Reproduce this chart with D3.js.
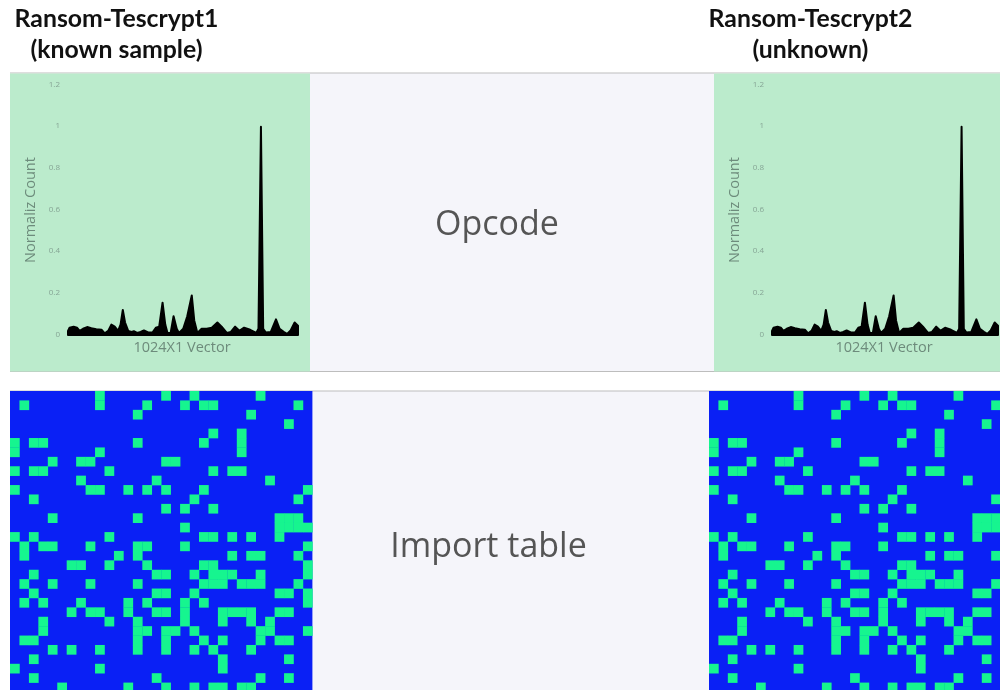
<!DOCTYPE html>
<html>
<head>
<meta charset="utf-8">
<script src="https://cdn.jsdelivr.net/npm/d3@7"></script>
<style>
  html, body { margin: 0; padding: 0; background: #fff; overflow: hidden; }
  svg { display: block; }
  text { font-family: "Open Sans", sans-serif; }
  .title { font-family: Lato, sans-serif; font-weight: 700; font-size: 24.8px; fill: #111; text-anchor: middle; }
  .section { font-size: 34px; fill: #555; text-anchor: middle; }
  .axis-label { font-size: 14.5px; fill: #6d8b7b; text-anchor: middle; }
  .tick text { font-size: 8px; fill: #86a595; }
</style>
</head>
<body>
<svg id="chart" width="1000" height="690"></svg>
<script>
// opcode histogram, position in the 1024x1 vector and normalized count
const vectorIndex = [0, 7, 25, 40, 52, 67, 85, 104, 126, 149, 164, 179, 193, 208, 223, 234, 244, 254, 268, 283, 293, 308, 323, 338, 357, 376, 391, 406, 421, 433, 443, 457, 470, 484, 494, 513, 531, 551, 562, 576, 595, 618, 640, 665, 684, 707, 725, 744, 763, 784, 811, 838, 848, 859, 869, 881, 903, 926, 942, 960, 975, 990, 1009, 1024];
const opcodeCounts = [0.02, 0.035, 0.04, 0.035, 0.02, 0.03, 0.038, 0.032, 0.028, 0.025, 0.008, 0.02, 0.05, 0.04, 0.02, 0.05, 0.12, 0.06, 0.02, 0.015, 0.018, 0.01, 0.015, 0.022, 0.012, 0.012, 0.035, 0.04, 0.155, 0.05, 0.01, 0.01, 0.09, 0.03, 0.01, 0.03, 0.09, 0.19, 0.07, 0.01, 0.03, 0.03, 0.035, 0.06, 0.04, 0.01, 0.015, 0.04, 0.02, 0.035, 0.025, 0.01, 0.03, 1.0, 0.03, 0.012, 0.015, 0.075, 0.03, 0.015, 0.005, 0.02, 0.06, 0.045];
const yTicks = [0, 0.2, 0.4, 0.6, 0.8, 1, 1.2];

// import table bitmap, for each row the columns that are set
const importRows = [
  [9, 16, 19, 26],
  [1, 9, 14, 18, 20, 21, 30],
  [13, 25],
  [29],
  [21, 24],
  [0, 2, 3, 13, 20, 24],
  [0, 9, 24],
  [4, 7, 8, 16, 17],
  [0, 2, 3, 10, 21, 23, 24],
  [7, 15, 27],
  [0, 8, 9, 12, 14, 16, 20, 31],
  [2, 19, 30],
  [16, 18, 21],
  [4, 13, 28, 29, 30],
  [18, 28, 29, 30, 31],
  [0, 2, 10, 20, 21, 23, 25, 28],
  [1, 3, 4, 8, 13, 14, 18, 31],
  [1, 11, 13, 23, 25, 26, 30],
  [6, 7, 10, 14, 20, 21, 31],
  [2, 15, 16, 19, 21, 22, 23, 26, 31],
  [1, 4, 8, 13, 20, 21, 22, 24, 25, 26, 30],
  [2, 15, 16, 19, 28, 29, 31],
  [1, 3, 7, 12, 14, 18, 20, 31],
  [6, 8, 9, 12, 15, 16, 18, 22, 23, 24, 25, 28, 29],
  [3, 10, 13, 18, 22, 25, 27],
  [3, 13, 14, 16, 17, 19, 26, 27, 31],
  [1, 2, 13, 16, 20, 22, 26, 28, 29],
  [4, 6, 9, 13, 16, 19, 21, 25],
  [2, 22, 29],
  [0, 9, 22],
  [2, 15, 26, 29],
  [5, 12, 16, 19, 21, 22, 24, 25]
];

const sampleTitles = [
  ['Ransom-Tescrypt1', '(known sample)'],
  ['Ransom-Tescrypt2', '(unknown)']
];
const sectionLabels = ['Opcode', 'Import table'];

const svg = d3.select('#chart');

// the source is a soft screenshot, so marks get a small blur
const defs = svg.append('defs');
defs.append('filter').attr('id', 'soft').append('feGaussianBlur').attr('stdDeviation', 0.55);
defs.append('filter').attr('id', 'softer').append('feGaussianBlur').attr('stdDeviation', 0.4);

const gridIndex = d3.range(32);

svg.append('rect').attr('x', 310).attr('y', 73).attr('width', 404).attr('height', 298).attr('fill', '#f5f5fa');
svg.append('rect').attr('x', 312).attr('y', 391).attr('width', 398).attr('height', 299).attr('fill', '#f5f5fa');
[[10, 1000, 73], [10, 1000, 371.5], [10, 1000, 391]].forEach(l => {
  svg.append('line')
    .attr('x1', l[0]).attr('x2', l[1]).attr('y1', l[2]).attr('y2', l[2])
    .attr('stroke', '#bdbdbd').attr('stroke-width', 1);
});

const drawOpcode = (panelX, panelW, x0, x1, yLabelX) => {
  const g = svg.append('g');
  g.append('rect')
    .attr('x', panelX).attr('y', 73.5).attr('width', panelW).attr('height', 298)
    .attr('fill', '#bbebcc');

  const x = d3.scaleLinear().domain([0, 1024]).range([x0, x1]);
  const y = d3.scaleLinear().domain([0, 1.2]).range([335, 85]);

  const area = d3.area()
    .x((d, i) => x(vectorIndex[i]))
    .y0(y(0))
    .y1(d => y(d));

  const marks = g.append('g').attr('filter', 'url(#softer)');
  marks.append('path')
    .attr('d', area(opcodeCounts))
    .attr('fill', '#000')
    .attr('stroke', '#000')
    .attr('stroke-width', 2)
    .attr('stroke-linejoin', 'round');

  const axis = d3.axisLeft(y)
    .tickValues(yTicks)
    .tickSize(0)
    .tickPadding(8)
    .tickFormat(d3.format('~g'));

  const ax = marks.append('g')
    .attr('transform', `translate(${x0},-1.5)`)
    .call(axis);
  ax.select('.domain').remove();

  marks.append('text')
    .attr('class', 'axis-label')
    .attr('x', (x0 + x1) / 2 - 1)
    .attr('y', 352)
    .text('1024X1 Vector');

  marks.append('text')
    .attr('class', 'axis-label')
    .attr('transform', `translate(${yLabelX},210) rotate(-90)`)
    .text('Normaliz Count');
};

const drawImports = (left, size) => {
  const x = d3.scaleBand().domain(gridIndex).range([left, left + size]);
  const y = d3.scaleBand().domain(gridIndex).range([391, 391 + 301]);

  const g = svg.append('g');
  g.append('rect')
    .attr('x', left).attr('y', 391).attr('width', size).attr('height', 301)
    .attr('fill', '#0a20f5');

  g.append('g')
    .attr('filter', 'url(#soft)')
    .selectAll('g')
    .data(importRows)
    .join('g')
    .selectAll('rect')
    .data((cols, r) => cols.map(c => ({ r, c })))
    .join('rect')
    .attr('x', d => x(d.c))
    .attr('y', d => y(d.r))
    .attr('width', x.bandwidth() + 0.3)
    .attr('height', y.bandwidth() + 0.3)
    .attr('fill', '#14f58f');
};

drawOpcode(10, 300, 68, 298, 35);
drawOpcode(714, 286, 772, 998, 739);
drawImports(10, 302.4);
drawImports(709, 301);

// titles
[[116.5, sampleTitles[0]], [810.5, sampleTitles[1]]].forEach(t => {
  svg.append('text').attr('class', 'title').attr('x', t[0]).attr('y', 27).text(t[1][0]);
  svg.append('text').attr('class', 'title').attr('x', t[0]).attr('y', 58).text(t[1][1]);
});

svg.append('text').attr('class', 'section').attr('x', 497).attr('y', 235).text(sectionLabels[0]);
svg.append('text').attr('class', 'section').attr('x', 488.5).attr('y', 557).text(sectionLabels[1]);
</script>
</body>
</html>
